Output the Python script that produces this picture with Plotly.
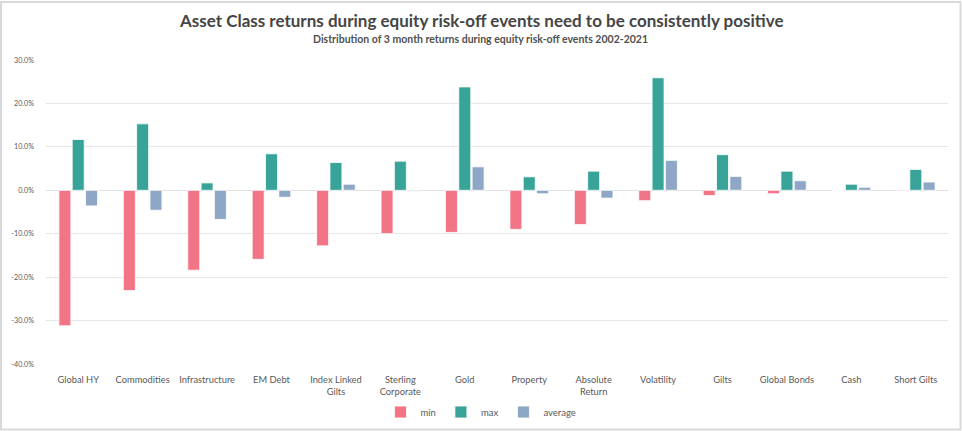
import plotly.graph_objects as go

categories = ["Global HY", "Commodities", "Infrastructure", "EM Debt", "Index Linked<br>Gilts",
              "Sterling<br>Corporate", "Gold", "Property", "Absolute<br>Return", "Volatility",
              "Gilts", "Global Bonds", "Cash", "Short Gilts"]
min_vals = [-31.2, -23.1, -18.4, -15.9, -12.8, -10.0, -9.7, -9.0, -7.9, -2.4, -1.2, -0.8, -0.05, -0.15]
max_vals = [11.7, 15.3, 1.7, 8.4, 6.4, 6.7, 23.8, 3.1, 4.4, 25.9, 8.2, 4.4, 1.4, 4.8]
avg_vals = [-3.6, -4.6, -6.7, -1.6, 1.4, -0.2, 5.4, -0.8, -1.8, 6.9, 3.2, 2.2, 0.7, 1.9]
tick_vals = [30, 20, 10, 0, -10, -20, -30, -40]
tick_text = [f"{v:.1f}%" for v in tick_vals]

FONT = "Lato"
fig = go.Figure()
for name, vals, col in [("min", min_vals, "#F27587"),
                        ("max", max_vals, "#37A399"),
                        ("average", avg_vals, "#8FA7C7")]:
    fig.add_trace(go.Bar(x=categories, y=vals, name=name,
                         marker=dict(color=col, line=dict(color="rgba(255,255,255,0.8)", width=1))))

fig.update_layout(
    width=962, height=431,
    margin=dict(l=46, r=14, t=59.5, b=67, autoexpand=False),
    paper_bgcolor="white", plot_bgcolor="white",
    barmode="group", bargap=0.38, bargroupgap=0.1,
    font=dict(family=FONT, size=9, color="#595959"),
    showlegend=True,
    legend=dict(orientation="h", xref="container", yref="container",
                x=0.5, xanchor="center", y=(431 - 412) / 431, yanchor="middle",
                bgcolor="rgba(0,0,0,0)", font=dict(size=9.5, color="#595959"),
                itemwidth=30, tracegroupgap=0),
    xaxis=dict(showgrid=False, tickfont=dict(size=9.3, color="#595959"), ticks="",
               showline=False, zeroline=False, automargin=False, ticklabelstandoff=9),
    yaxis=dict(range=[-40, 30], tickvals=tick_vals, ticktext=tick_text,
               showgrid=True, gridcolor="#E6E6E6", gridwidth=1, zeroline=True,
               zerolinecolor="#E0E0E0", zerolinewidth=1, ticks="", automargin=False,
               ticklabelstandoff=11, tickfont=dict(size=7.2, color="#595959")),
    annotations=[
        dict(text="<b>Asset Class returns during equity risk-off events need to be consistently positive</b>",
             xref="paper", yref="paper", x=(481 - 46) / 902, y=(364 - 20) / 304.5,
             xanchor="center", yanchor="middle",
             showarrow=False, font=dict(family=FONT, size=17, color="#454545")),
        dict(text="<b>Distribution of 3 month returns during equity risk-off events 2002-2021</b>",
             xref="paper", yref="paper", x=(480 - 46) / 902, y=(364 - 38.5) / 304.5,
             xanchor="center", yanchor="middle",
             showarrow=False, font=dict(family=FONT, size=10.5, color="#505050")),
    ],
    shapes=[dict(type="rect", xref="paper", yref="paper",
                 x0=(1 - 46) / 902, x1=(960.5 - 46) / 902,
                 y0=(364 - 429.5) / 304.5, y1=(364 - 1.5) / 304.5,
                 line=dict(color="#D9D9D9", width=2), layer="below")],
)
fig.write_html("out.html", config={"displayModeBar": False},
               post_script="document.body.style.margin='0';")
